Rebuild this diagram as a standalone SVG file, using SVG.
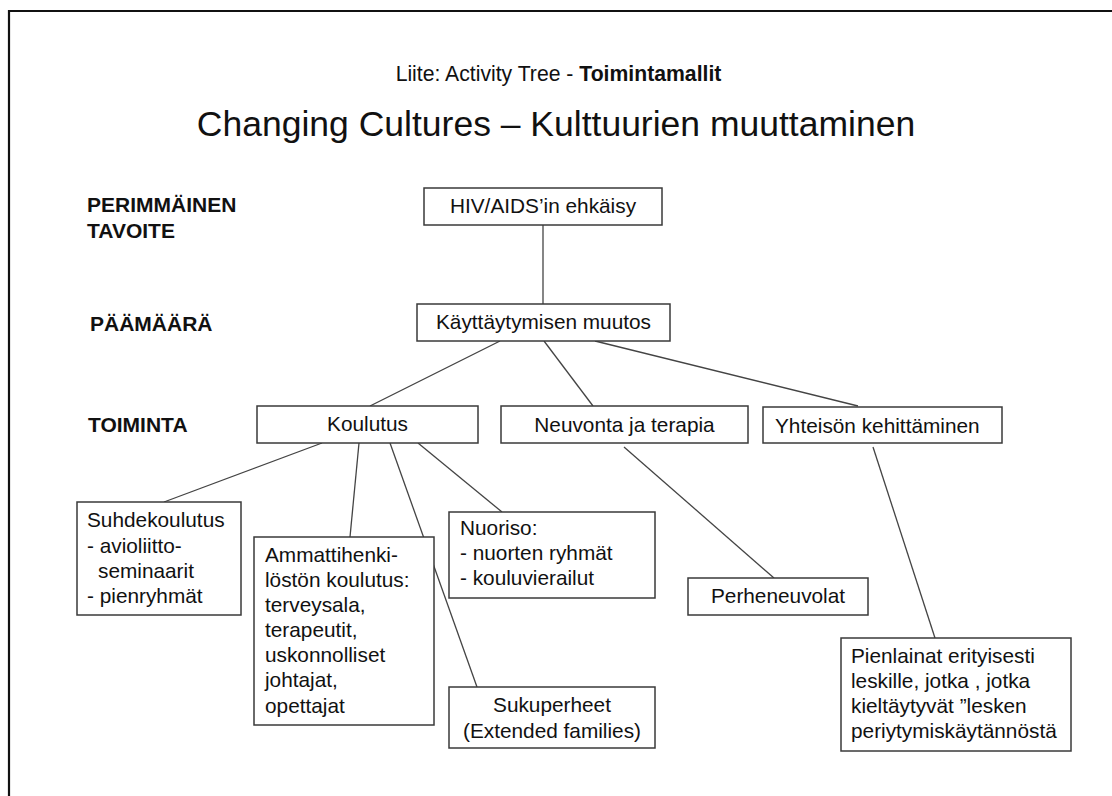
<svg xmlns="http://www.w3.org/2000/svg" width="1112" height="796" viewBox="0 0 1112 796">
<style>
.bg{fill:#ffffff}
.frame{fill:none;stroke:#111;stroke-width:2.2}
.box{fill:#ffffff;stroke:#3a3a3a;stroke-width:1.5}
.t{font-family:"Liberation Sans",Arial,sans-serif;font-size:20.8px;fill:#111}
.c{text-anchor:middle}
.lbl{font-family:"Liberation Sans",Arial,sans-serif;font-size:21px;font-weight:bold;fill:#111}
.sub{font-family:"Liberation Sans",Arial,sans-serif;font-size:21.2px;fill:#111}
.title{font-family:"Liberation Sans",Arial,sans-serif;font-size:35.5px;fill:#111}
.conn line{stroke:#444;stroke-width:1.3}
</style>
<rect class="bg" x="0" y="0" width="1112" height="796"/>
<path class="frame" d="M9,796 V11 H1112"/>
<g id="header">
<text class="sub c" x="558.5" y="81">Liite: Activity Tree - <tspan font-weight="bold">Toimintamallit</tspan></text>
<text class="title c" x="556" y="136">Changing Cultures – Kulttuurien muuttaminen</text>
</g>
<g id="levels">
<text class="lbl" x="87" y="212">PERIMMÄINEN</text>
<text class="lbl" x="87" y="238">TAVOITE</text>
<text class="lbl" x="90" y="331">PÄÄMÄÄRÄ</text>
<text class="lbl" x="88" y="432">TOIMINTA</text>
</g>
<g id="connectors" class="conn">
<line x1="543" y1="225" x2="543" y2="304"/>
<line x1="500" y1="341" x2="370" y2="406"/>
<line x1="544" y1="341" x2="593" y2="406"/>
<line x1="595" y1="341" x2="858" y2="406"/>
<line x1="322" y1="443" x2="164" y2="502"/>
<line x1="359" y1="443" x2="350" y2="537"/>
<line x1="390" y1="443" x2="477" y2="687"/>
<line x1="418" y1="443" x2="502" y2="512"/>
<line x1="624" y1="447" x2="774" y2="578"/>
<line x1="873" y1="447" x2="935" y2="638"/>
</g>
<g id="hiv">
<rect class="box" x="424" y="188" width="238" height="37"/>
<text class="t c" x="543" y="213">HIV/AIDS’in ehkäisy</text>
</g>
<g id="kayttaytyminen">
<rect class="box" x="417" y="304" width="253" height="37"/>
<text class="t c" x="543.5" y="329">Käyttäytymisen muutos</text>
</g>
<g id="koulutus">
<rect class="box" x="257" y="406" width="221" height="37"/>
<text class="t c" x="367.5" y="431">Koulutus</text>
</g>
<g id="neuvonta">
<rect class="box" x="501" y="406" width="247" height="37"/>
<text class="t c" x="624.5" y="432">Neuvonta ja terapia</text>
</g>
<g id="yhteiso">
<rect class="box" x="763" y="407" width="239" height="36"/>
<text class="t" x="775" y="433">Yhteisön kehittäminen</text>
</g>
<g id="suhdekoulutus">
<rect class="box" x="77" y="502" width="164" height="113"/>
<text class="t" x="87" y="527">Suhdekoulutus</text>
<text class="t" x="87" y="553">- avioliitto-</text>
<text class="t" x="98" y="578">seminaarit</text>
<text class="t" x="87" y="603">- pienryhmät</text>
</g>
<g id="ammatti">
<rect class="box" x="254" y="537" width="180" height="188"/>
<text class="t" x="265" y="562">Ammattihenki-</text>
<text class="t" x="265" y="587">löstön koulutus:</text>
<text class="t" x="265" y="612">terveysala,</text>
<text class="t" x="265" y="637">terapeutit,</text>
<text class="t" x="265" y="662">uskonnolliset</text>
<text class="t" x="265" y="687">johtajat,</text>
<text class="t" x="265" y="713">opettajat</text>
</g>
<g id="nuoriso">
<rect class="box" x="449" y="512" width="206" height="86"/>
<text class="t" x="460" y="535">Nuoriso:</text>
<text class="t" x="460" y="560">- nuorten ryhmät</text>
<text class="t" x="460" y="585">- kouluvierailut</text>
</g>
<g id="sukuperheet">
<rect class="box" x="449" y="687" width="206" height="61"/>
<text class="t c" x="552" y="712">Sukuperheet</text>
<text class="t c" x="552" y="738">(Extended families)</text>
</g>
<g id="perheneuvolat">
<rect class="box" x="688" y="578" width="180" height="37"/>
<text class="t c" x="778" y="603">Perheneuvolat</text>
</g>
<g id="pienlainat">
<rect class="box" x="841" y="638" width="230" height="113"/>
<text class="t" x="851" y="663">Pienlainat erityisesti</text>
<text class="t" x="851" y="688">leskille, jotka , jotka</text>
<text class="t" x="851" y="713">kieltäytyvät ”lesken</text>
<text class="t" x="851" y="738">periytymiskäytännöstä</text>
</g>
</svg>
